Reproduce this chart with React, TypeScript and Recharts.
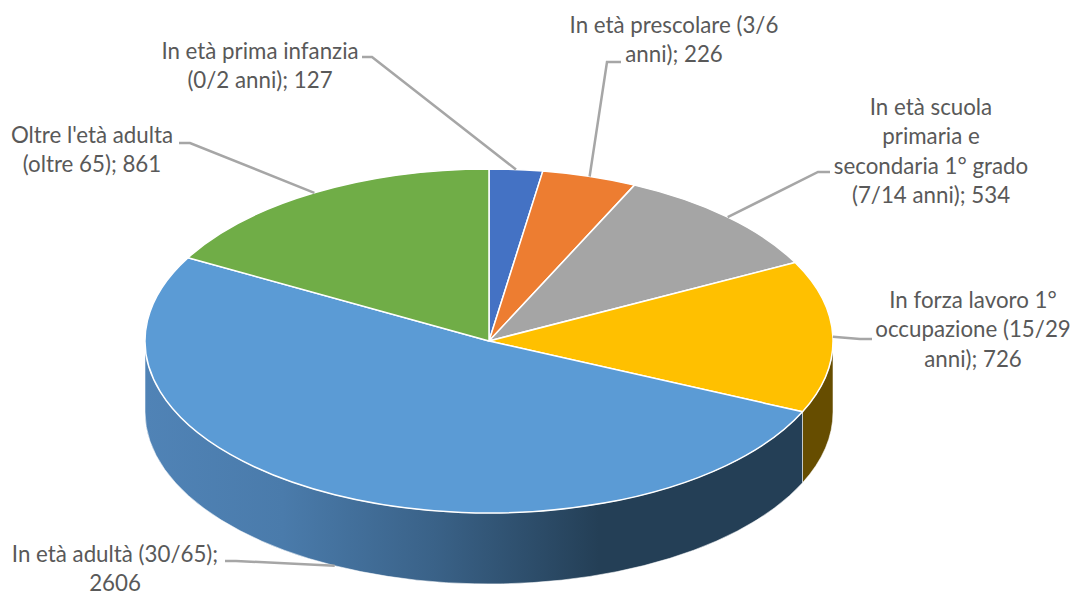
import { PieChart, Pie } from "recharts";

const categories = [
  "In età prima infanzia (0/2 anni)",
  "In età prescolare (3/6 anni)",
  "In età scuola primaria e secondaria 1° grado (7/14 anni)",
  "In forza lavoro 1° occupazione (15/29 anni)",
  "In età adultà (30/65)",
  "Oltre l'età adulta (oltre 65)",
];
const values = [127, 226, 534, 726, 2606, 861];
const labelRows = [
  ["In età prima infanzia", "(0/2 anni); 127"],
  ["In età prescolare (3/6", "anni); 226"],
  ["In età scuola", "primaria e", "secondaria 1° grado", "(7/14 anni); 534"],
  ["In forza lavoro 1°", "occupazione (15/29", "anni); 726"],
  ["In età adultà (30/65);", "2606"],
  ["Oltre l'età adulta", "(oltre 65); 861"],
];

const topColors = ["#4472C4", "#ED7D31", "#A5A5A5", "#FFC000", "#5B9BD5", "#70AD47"];
const wallColors = ["#29447A", "#8E4B1D", "#636363", "#664D00", "url(#blueWall)", "#43682B"];

// label placement: text centre x, first baseline y, and the elbow of the leader line
const labelPos = [
  { x: 260, y: 59, elbowX: 372, elbowY: 57, endX: 362 },
  { x: 674, y: 33, elbowX: 607, elbowY: 62, endX: 621 },
  { x: 931, y: 115, elbowX: 818, elbowY: 172, endX: 830 },
  { x: 973, y: 308, elbowX: 860, elbowY: 339, endX: 872 },
  { x: 115, y: 562, elbowX: 236, elbowY: 561, endX: 225 },
  { x: 92, y: 143, elbowX: 190, elbowY: 143, endX: 179 },
];

const CX = 489;
const CY = 341;
const RADIUS = 344;
const SQUASH = 0.5; // pie seen from above: height of the ellipse over its width
const DEPTH = 71;
const LINE_HEIGHT = 29.3;

const data = categories.map((name, i) => ({
  name,
  value: values[i],
  fill: topColors[i],
  wall: wallColors[i],
}));

const rad = (deg: number) => (deg * Math.PI) / 180;
const px = (cx: number, r: number, a: number) => cx + r * Math.cos(rad(a));
const py = (cy: number, r: number, a: number) => cy - r * SQUASH * Math.sin(rad(a));

// eslint-disable-next-line @typescript-eslint/no-explicit-any
function Slice3D(props: any) {
  const { cx, cy, outerRadius: r, startAngle, endAngle, fill, wall } = props;
  const ry = r * SQUASH;
  const large = Math.abs(startAngle - endAngle) > 180 ? 1 : 0;
  const top =
    `M${cx},${cy} L${px(cx, r, startAngle)},${py(cy, r, startAngle)} ` +
    `A${r},${ry} 0 ${large} 1 ${px(cx, r, endAngle)},${py(cy, r, endAngle)} Z`;

  // only the front half of the rim has a visible wall
  const from = Math.min(startAngle, 0);
  const to = Math.max(endAngle, -180);
  let side = null;
  if (from > to) {
    const x1 = px(cx, r, from);
    const y1 = py(cy, r, from);
    const x2 = px(cx, r, to);
    const y2 = py(cy, r, to);
    side = (
      <path
        d={
          `M${x1},${y1} A${r},${ry} 0 0 1 ${x2},${y2} L${x2},${y2 + DEPTH} ` +
          `A${r},${ry} 0 0 0 ${x1},${y1 + DEPTH} Z`
        }
        fill={wall}
        stroke="#ffffff"
        strokeOpacity={0.55}
        strokeWidth={1}
      />
    );
  }

  return (
    <g>
      <defs>
        <linearGradient
          id="blueWall"
          gradientUnits="userSpaceOnUse"
          x1={cx - r}
          y1={0}
          x2={cx + r}
          y2={0}
        >
          <stop offset="0" stopColor="#5083B6" />
          <stop offset="0.2" stopColor="#4A7BAB" />
          <stop offset="0.42" stopColor="#3A6288" />
          <stop offset="0.66" stopColor="#243F56" />
          <stop offset="1" stopColor="#243F56" />
        </linearGradient>
      </defs>
      {side}
      <path d={top} fill={fill} stroke="#ffffff" strokeWidth={1.5} strokeLinejoin="round" />
    </g>
  );
}

// eslint-disable-next-line @typescript-eslint/no-explicit-any
function LeaderLine(props: any) {
  const { cx, cy, outerRadius: r, midAngle, index } = props;
  const pos = labelPos[index];
  const x = px(cx, r, midAngle);
  const y = py(cy, r, midAngle) + (Math.sin(rad(midAngle)) < -0.1 ? DEPTH : 0);
  return (
    <polyline
      points={`${pos.endX},${pos.elbowY} ${pos.elbowX},${pos.elbowY} ${x},${y}`}
      fill="none"
      stroke="#A6A6A6"
      strokeWidth={2.5}
    />
  );
}

// eslint-disable-next-line @typescript-eslint/no-explicit-any
function SliceLabel(props: any) {
  const pos = labelPos[props.index];
  return (
    <text
      x={pos.x}
      y={pos.y}
      textAnchor="middle"
      fontFamily="Lato, sans-serif"
      fontSize={22.3}
      fill="#595959"
    >
      {labelRows[props.index].map((row, i) => (
        <tspan key={row} x={pos.x} y={pos.y + i * LINE_HEIGHT}>
          {row}
        </tspan>
      ))}
    </text>
  );
}

export default function App() {
  return (
    <div style={{ position: "absolute", left: 0, top: 0, width: 1070, height: 592, background: "#ffffff" }}>
      <PieChart width={1070} height={592} margin={{ top: 0, right: 0, bottom: 0, left: 0 }}>
        <Pie
          data={data}
          dataKey="value"
          nameKey="name"
          cx={CX}
          cy={CY}
          innerRadius={0}
          outerRadius={RADIUS}
          startAngle={90}
          endAngle={-270}
          isAnimationActive={false}
          shape={Slice3D}
          label={SliceLabel}
          labelLine={LeaderLine}
        />
      </PieChart>
    </div>
  );
}
